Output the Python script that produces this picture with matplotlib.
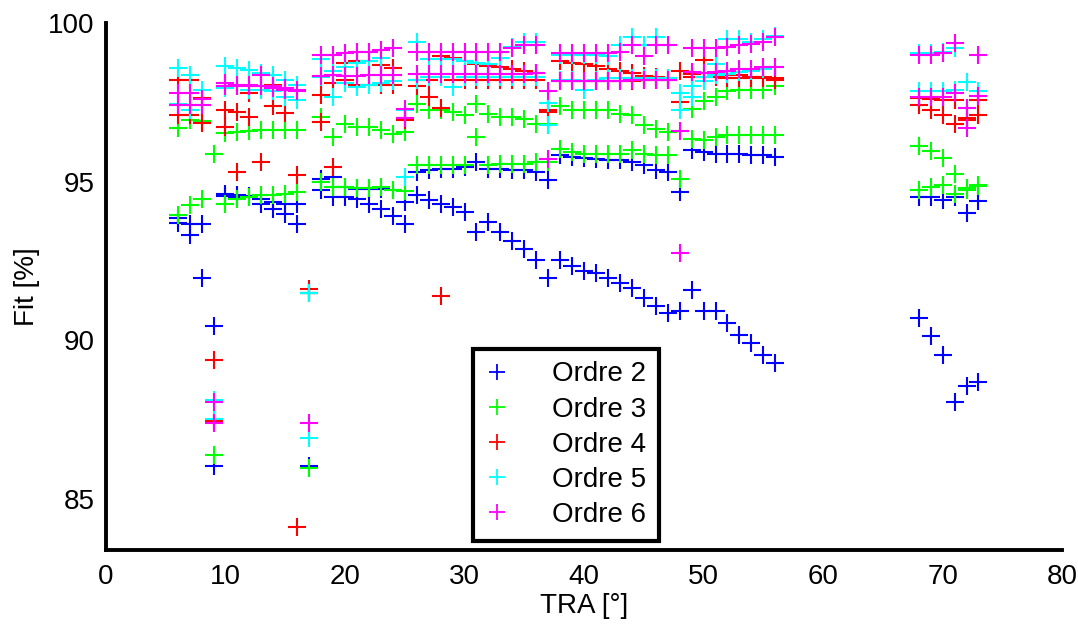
import numpy as np
import matplotlib
matplotlib.use('Agg')
import matplotlib.pyplot as plt

plt.rcParams['font.family'] = ['Liberation Sans', 'DejaVu Sans']

# TRA values (deg)
tra = [6, 7, 8, 9, 10, 11, 12, 13, 14, 15, 16, 17, 18, 19, 20, 21, 22, 23, 24, 25,
       26, 27, 28, 29, 30, 31, 32, 33, 34, 35, 36, 37, 38, 39, 40, 41, 42, 43, 44, 45,
       46, 47, 48, 49, 50, 51, 52, 53, 54, 55, 56, 68, 69, 70, 71, 72, 73]

# two runs per order (a / b), fit in %
ordre2_a = [93.84, 93.65, 93.65, 90.44, 94.60, 94.57, 94.55, 94.45, 94.35, 94.30, 94.30, 91.49,
            95.08, 95.14, 94.83, 94.75, 94.75, 94.76, 94.73, 94.35, 95.30, 95.37, 95.40, 95.40,
            95.46, 95.62, 95.40, 95.40, 95.37, 95.37, 95.30, 95.05, 95.84, 95.78, 95.75, 95.70,
            95.68, 95.68, 95.62, 95.52, 95.37, 95.30, 94.67, 96.00, 95.94, 95.87, 95.87, 95.87,
            95.84, 95.84, 95.78, 94.50, 94.50, 94.41, 94.50, 94.00, 94.38]
ordre2_b = [93.70, 93.30, 91.97, 86.03, 94.55, 94.50, 94.50, 94.29, 94.13, 93.97, 93.65, 86.03,
            94.73, 94.51, 94.50, 94.44, 94.30, 94.13, 93.90, 93.65, 94.57, 94.41, 94.29, 94.19,
            94.03, 93.40, 93.71, 93.40, 93.14, 92.86, 92.54, 91.97, 92.51, 92.35, 92.19, 92.10,
            91.97, 91.81, 91.65, 91.33, 91.08, 90.86, 90.92, 91.59, 90.92, 90.92, 90.54, 90.16,
            89.90, 89.52, 89.27, 90.70, 90.13, 89.52, 88.06, 88.54, 88.67]

ordre3_a = [96.68, 96.94, 96.90, 95.88, 96.54, 96.57, 96.60, 96.63, 96.63, 96.63, 96.63, 91.50,
            97.05, 96.41, 96.80, 96.73, 96.73, 96.63, 96.51, 96.57, 97.46, 97.27, 97.27, 97.20,
            97.11, 97.43, 97.14, 97.05, 97.05, 96.98, 96.83, 96.80, 97.37, 97.27, 97.27, 97.27,
            97.27, 97.14, 97.11, 96.79, 96.67, 96.57, 96.60, 97.30, 97.55, 97.68, 97.84, 97.90,
            97.90, 97.90, 98.00, 96.13, 95.97, 95.75, 95.24, 94.73, 94.89]
ordre3_b = [93.94, 94.25, 94.44, 86.38, 94.29, 94.44, 94.51, 94.57, 94.57, 94.60, 94.67, 85.95,
            94.98, 94.83, 94.83, 94.80, 94.80, 94.83, 94.73, 94.70, 95.52, 95.52, 95.52, 95.52,
            95.52, 96.41, 95.52, 95.56, 95.56, 95.56, 95.62, 95.62, 96.03, 95.94, 95.87, 95.87,
            95.87, 95.87, 96.00, 95.87, 95.84, 95.84, 95.08, 96.35, 96.32, 96.41, 96.48, 96.48,
            96.48, 96.48, 96.48, 94.73, 94.83, 94.89, 94.60, 94.80, 94.85]

ordre4_a = [98.21, 98.20, 97.62, 89.37, 97.26, 97.20, 97.79, 98.00, 98.05, 97.90, 95.20, 91.60,
            97.73, 98.10, 98.74, 98.79, 98.79, 98.69, 98.58, 97.00, 98.00, 97.68, 98.95, 98.90,
            98.80, 98.70, 98.64, 98.60, 98.54, 98.50, 98.42, 97.25, 98.79, 98.74, 98.70, 98.63,
            98.55, 98.48, 98.42, 98.32, 98.30, 98.28, 97.52, 98.40, 98.84, 98.40, 98.35, 98.35,
            98.30, 98.30, 98.25, 97.63, 97.60, 97.58, 97.58, 97.00, 97.58]
ordre4_b = [97.10, 97.10, 96.85, 87.46, 96.73, 95.30, 97.05, 95.62, 97.37, 97.15, 84.10, 91.50,
            96.89, 95.46, 98.20, 98.05, 98.05, 98.05, 98.05, 96.95, 98.21, 98.21, 97.31, 98.21,
            98.21, 98.21, 98.21, 98.21, 98.21, 98.21, 98.21, 97.20, 98.16, 98.16, 98.16, 98.16,
            98.16, 98.16, 98.16, 98.20, 98.20, 98.20, 98.48, 98.30, 98.30, 98.30, 98.25, 98.25,
            98.25, 98.25, 98.20, 97.42, 97.26, 97.10, 96.83, 96.95, 97.10]
# isolated point
ordre4_extra_x = [28]
ordre4_extra_y = [91.40]

ordre5_a = [98.58, 98.35, 97.90, 88.10, 98.63, 98.58, 98.53, 98.41, 98.35, 98.19, 98.06, 86.92,
            98.86, 98.50, 98.60, 98.75, 98.80, 98.90, 99.20, 97.27, 99.40, 98.86, 98.85, 98.85,
            98.80, 98.75, 98.70, 98.90, 99.25, 99.40, 99.40, 97.47, 99.00, 99.00, 99.00, 99.00,
            98.95, 99.30, 99.57, 99.30, 99.57, 99.30, 97.80, 97.68, 98.16, 98.70, 99.50, 99.50,
            99.40, 99.50, 99.60, 99.06, 99.06, 99.10, 99.22, 98.14, 97.84]
ordre5_b = [97.45, 97.27, 97.42, 87.50, 97.95, 98.00, 97.90, 97.90, 97.85, 97.68, 97.58, 91.50,
            98.30, 97.68, 98.10, 97.97, 98.05, 98.10, 98.16, 95.15, 98.20, 98.30, 98.30, 97.97,
            98.30, 98.30, 98.30, 98.30, 98.30, 98.30, 98.30, 96.79, 98.20, 98.20, 97.90, 98.20,
            98.26, 98.26, 98.26, 98.26, 98.26, 98.26, 97.26, 98.00, 98.30, 98.35, 98.40, 98.45,
            98.50, 98.55, 98.60, 97.84, 97.84, 97.84, 97.90, 97.31, 97.70]

ordre6_a = [97.79, 97.79, 97.60, 88.05, 98.10, 98.05, 98.05, 98.37, 98.00, 97.95, 97.90, 87.40,
            99.00, 99.00, 99.06, 99.10, 99.10, 99.15, 99.20, 97.30, 99.10, 99.10, 99.10, 99.10,
            99.10, 99.10, 99.10, 99.10, 99.20, 99.30, 99.30, 97.84, 99.06, 99.06, 99.06, 99.06,
            99.06, 99.10, 99.30, 98.95, 99.30, 99.30, 96.60, 99.22, 99.22, 99.22, 99.25, 99.30,
            99.35, 99.40, 99.57, 99.00, 99.00, 99.06, 99.37, 97.31, 99.00]
ordre6_b = [97.42, 97.42, 97.42, 87.40, 98.00, 98.00, 98.00, 98.00, 97.95, 97.90, 97.85, np.nan,
            98.32, 98.35, 98.32, 98.32, 98.35, 98.35, 98.35, 97.00, 98.40, 98.40, 98.38, 98.38,
            98.40, 98.40, 98.38, 98.38, 98.40, 98.40, 98.42, 95.71, 98.16, 98.16, 98.16, 98.18,
            98.18, 98.18, 98.20, 98.20, 98.20, 98.20, 92.75, 98.45, 98.42, 98.45, 98.50, 98.55,
            98.55, 98.60, 98.60, 97.68, 97.68, 97.68, 97.79, 96.68, 97.70]

labels = ['Ordre 2', 'Ordre 3', 'Ordre 4', 'Ordre 5', 'Ordre 6']
colors = ['#0000ff', '#00ff00', '#ff0000', '#00ffff', '#ff00ff']

fig = plt.figure(figsize=(10.78, 6.30), dpi=100)
ax = fig.add_axes([0.0983, 0.127, 0.887, 0.8365])

series = [
    (ordre2_a, ordre2_b, [], []),
    (ordre3_a, ordre3_b, [], []),
    (ordre4_a, ordre4_b, ordre4_extra_x, ordre4_extra_y),
    (ordre5_a, ordre5_b, [], []),
    (ordre6_a, ordre6_b, [], []),
]

handles = []
for (ya, yb, ex, ey), col, lab in zip(series, colors, labels):
    xs = tra + tra + ex
    ys = ya + yb + ey
    h, = ax.plot(xs, ys, linestyle='none', marker='+', markersize=13,
                 markeredgewidth=1.5, color=col, label=lab, clip_on=False)
    handles.append(h)

ax.set_xlim(0, 80)
ax.set_ylim(83.38, 100)
ax.set_xticks([0, 10, 20, 30, 40, 50, 60, 70, 80])
ax.set_yticks([85, 90, 95, 100])

for s in ['top', 'right']:
    ax.spines[s].set_visible(False)
for s in ['left', 'bottom']:
    ax.spines[s].set_linewidth(2.8)
ax.tick_params(axis='x', length=0, labelsize=20, pad=10)
ax.tick_params(axis='y', length=0, labelsize=20, pad=8)

ax.set_xlabel('TRA [°]', fontsize=20, labelpad=2)
ax.set_ylabel('Fit [%]', fontsize=20, labelpad=6)

leg = ax.legend(handles=handles, loc='lower left', bbox_to_anchor=(0.384, 0.018),
                fontsize=20, handlelength=0.8, handletextpad=1.6,
                labelspacing=0.33, borderpad=0.45, borderaxespad=0, fancybox=False,
                framealpha=1, edgecolor='black')
leg.get_frame().set_linewidth(3)
for lh in leg.legend_handles:
    lh.set_markersize(11)
    lh.set_markeredgewidth(1.3)

fig.savefig('out.png', dpi=100)
